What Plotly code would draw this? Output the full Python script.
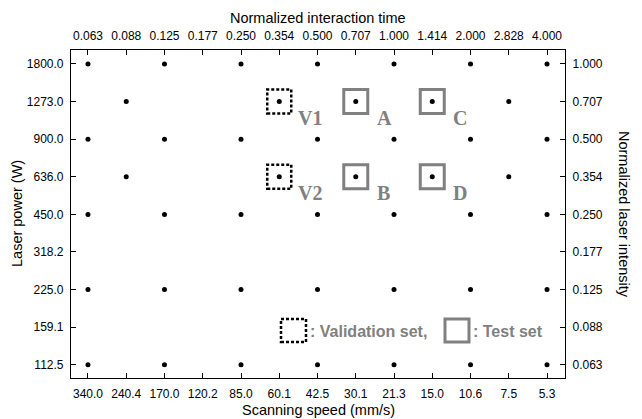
import plotly.graph_objects as go

# ---- axis categories / tick labels ----
speeds = [340.0, 240.4, 170.0, 120.2, 85.0, 60.1, 42.5, 30.1, 21.3, 15.0, 10.6, 7.5, 5.3]
interaction_time = ["0.063", "0.088", "0.125", "0.177", "0.250", "0.354", "0.500",
                    "0.707", "1.000", "1.414", "2.000", "2.828", "4.000"]
powers = [112.5, 159.1, 225.0, 318.2, 450.0, 636.0, 900.0, 1273.0, 1800.0]
intensity = ["0.063", "0.088", "0.125", "0.177", "0.250", "0.354", "0.500", "0.707", "1.000"]

# ---- experimental points (speed, power) ----
pt_speed = [340.0, 170.0, 85.0, 42.5, 21.3, 10.6, 5.3,
            240.4, 60.1, 30.1, 15.0, 7.5,
            340.0, 170.0, 85.0, 42.5, 21.3, 10.6, 5.3,
            240.4, 60.1, 30.1, 15.0, 7.5,
            340.0, 170.0, 85.0, 42.5, 21.3, 10.6, 5.3,
            340.0, 170.0, 85.0, 42.5, 21.3, 10.6, 5.3,
            340.0, 170.0, 85.0, 42.5, 21.3, 10.6, 5.3]
pt_power = [1800.0] * 7 + [1273.0] * 5 + [900.0] * 7 + [636.0] * 5 + [450.0] * 7 + [225.0] * 7 + [112.5] * 7

# ---- highlighted sets ----
val_speed = [60.1, 60.1]
val_power = [1273.0, 636.0]
val_label = ["V1", "V2"]
test_speed = [30.1, 30.1, 15.0, 15.0]
test_power = [1273.0, 636.0, 1273.0, 636.0]
test_label = ["A", "B", "C", "D"]

GRAY = "#808080"
xi = lambda s: speeds.index(s)
yi = lambda p: powers.index(p)

fig = go.Figure()
fig.add_trace(go.Scatter(
    x=[xi(s) for s in pt_speed], y=[yi(p) for p in pt_power],
    mode="markers", marker=dict(color="black", size=5), showlegend=False,
))
# invisible trace to activate secondary axes
fig.add_trace(go.Scatter(x=[0], y=[0], xaxis="x2", yaxis="y2", mode="markers",
                         marker=dict(opacity=0), showlegend=False, hoverinfo="skip"))

shapes = []
annotations = []
for s, p, lab in zip(val_speed, val_power, val_label):
    shapes.append(dict(type="rect", xref="x", yref="y", xsizemode="pixel", ysizemode="pixel",
                       xanchor=xi(s), yanchor=yi(p), x0=-12, x1=12, y0=-12, y1=12,
                       line=dict(color="black", width=2.5, dash="3px,2px")))
    annotations.append(dict(x=xi(s), y=yi(p), xref="x", yref="y", text="<b>%s</b>" % lab,
                            showarrow=False, xanchor="left", yanchor="middle", xshift=17, yshift=-16,
                            font=dict(family="Liberation Serif", size=20, color=GRAY)))
for s, p, lab in zip(test_speed, test_power, test_label):
    shapes.append(dict(type="rect", xref="x", yref="y", xsizemode="pixel", ysizemode="pixel",
                       xanchor=xi(s), yanchor=yi(p), x0=-12, x1=12, y0=-12, y1=12,
                       line=dict(color=GRAY, width=3)))
    annotations.append(dict(x=xi(s), y=yi(p), xref="x", yref="y", text="<b>%s</b>" % lab,
                            showarrow=False, xanchor="left", yanchor="middle", xshift=19, yshift=-16,
                            font=dict(family="Liberation Serif", size=20, color=GRAY)))

# legend-like key (paper coordinates)
L, R, T, B = 71, 565, 50, 378
px = lambda v: (v - L) / (R - L)
py = lambda v: (B - v) / (B - T)
shapes.append(dict(type="rect", xref="paper", yref="paper", x0=px(281), x1=px(306), y0=py(342), y1=py(319),
                   line=dict(color="black", width=2.5, dash="3px,2px")))
shapes.append(dict(type="rect", xref="paper", yref="paper", x0=px(445), x1=px(469), y0=py(342), y1=py(319),
                   line=dict(color=GRAY, width=3)))
annotations.append(dict(x=px(308), y=py(331), xref="paper", yref="paper", text="<b>: Validation set,</b>",
                        showarrow=False, xanchor="left", yanchor="middle",
                        font=dict(family="Liberation Sans", size=16, color=GRAY)))
annotations.append(dict(x=px(471), y=py(331), xref="paper", yref="paper", text="<b>: Test set</b>",
                        showarrow=False, xanchor="left", yanchor="middle",
                        font=dict(family="Liberation Sans", size=16, color=GRAY)))

# axis titles
tf = dict(family="Liberation Sans", size=14.5, color="black")
annotations += [
    dict(x=0.5, y=py(18), xref="paper", yref="paper", text="Normalized interaction time",
         showarrow=False, yanchor="middle", font=tf),
    dict(x=0.5, y=py(410), xref="paper", yref="paper", text="Scanning speed (mm/s)",
         showarrow=False, yanchor="middle", font=tf),
    dict(x=px(17), y=0.5, xref="paper", yref="paper", text="Laser power (W)",
         showarrow=False, textangle=-90, xanchor="center", font=tf),
    dict(x=px(624), y=0.5, xref="paper", yref="paper", text="Normalized laser intensity",
         showarrow=False, textangle=90, xanchor="center", font=tf),
]

xr = [-0.444, 12.47]
yr = [-0.35, 8.37]
common = dict(showgrid=False, zeroline=False, showline=True, linecolor="black", linewidth=1.2,
              ticks="inside", ticklen=5, tickwidth=1, tickcolor="black",
              tickfont=dict(family="Liberation Sans", size=12, color="black"))

fig.update_layout(
    width=642, height=419,
    margin=dict(l=L, r=642 - R, t=T, b=419 - B),
    paper_bgcolor="white", plot_bgcolor="white",
    xaxis=dict(range=xr, tickmode="array", tickvals=list(range(len(speeds))),
               ticktext=["%.1f" % v for v in speeds], ticklabelstandoff=4, **common),
    xaxis2=dict(range=xr, overlaying="x", side="top", tickmode="array",
                tickvals=list(range(len(interaction_time))), ticktext=interaction_time,
                ticklabelstandoff=4, **common),
    yaxis=dict(range=yr, tickmode="array", tickvals=list(range(len(powers))),
               ticktext=["%.1f" % v for v in powers], ticklabelstandoff=4, **common),
    yaxis2=dict(range=yr, overlaying="y", side="right", tickmode="array",
                tickvals=list(range(len(intensity))), ticktext=intensity,
                ticklabelstandoff=4, **common),
    shapes=shapes, annotations=annotations, showlegend=False,
)

fig.write_html("out.html", config={"displayModeBar": False},
               post_script="document.body.style.margin='0';")
